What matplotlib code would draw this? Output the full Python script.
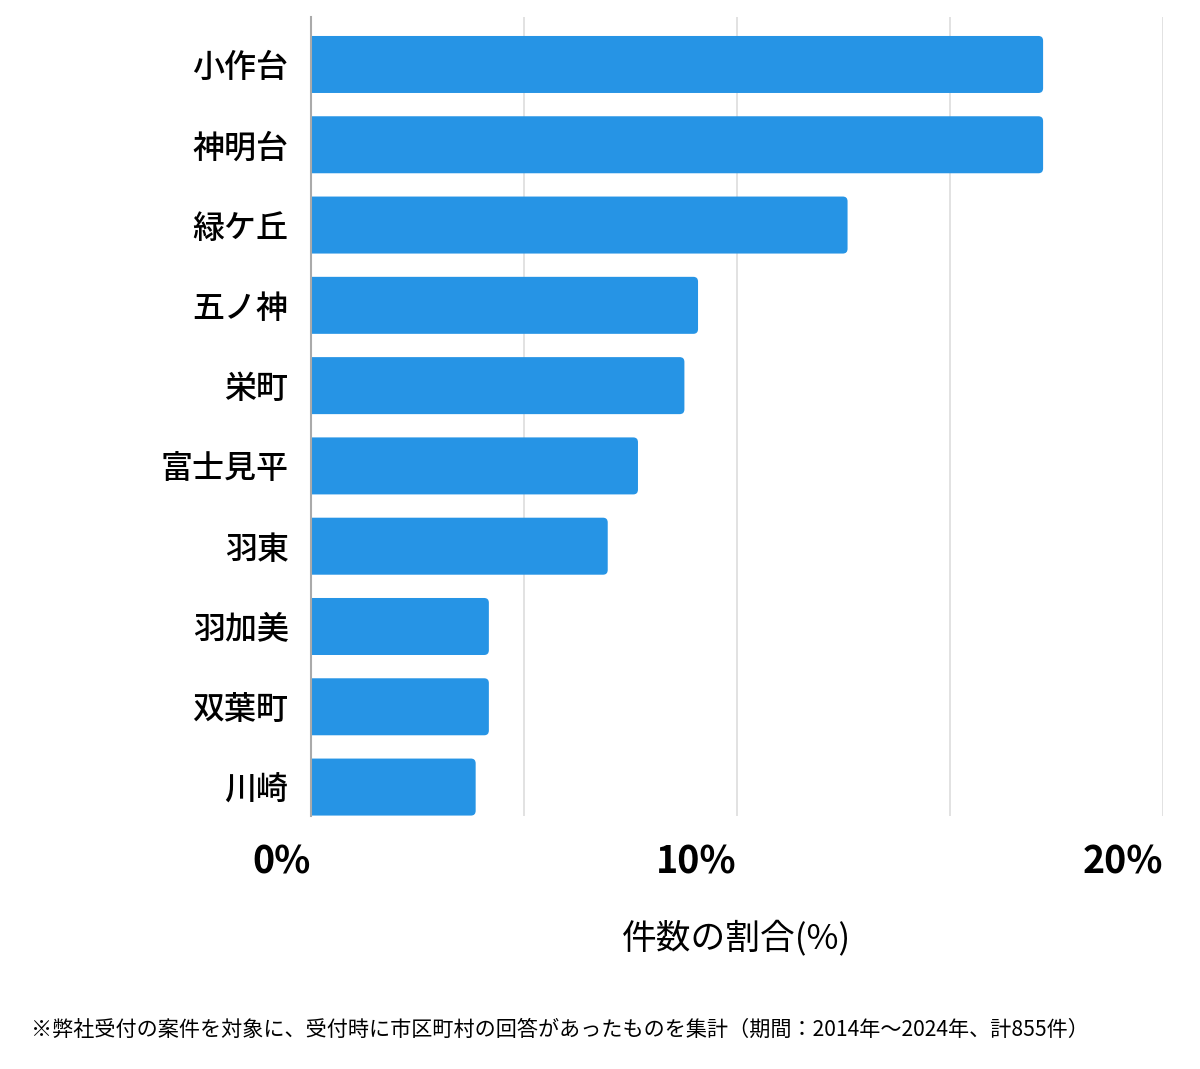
import matplotlib
matplotlib.use('Agg')
import matplotlib.pyplot as plt
from matplotlib.path import Path
from matplotlib.patches import PathPatch

plt.rcParams['font.family'] = ['Noto Sans CJK JP', 'DejaVu Sans']

# data (share of cases, %)
areas = ['小作台', '神明台', '緑ケ丘', '五ノ神', '栄町', '富士見平', '羽東', '羽加美', '双葉町', '川崎']
shares = [17.19, 17.19, 12.6, 9.09, 8.77, 7.68, 6.97, 4.18, 4.18, 3.87]
xticks = [0, 10, 20]
xticklabels = ['0%', '10%', '20%']
xlabel = '件数の割合(%)'
note = '※弊社受付の案件を対象に、受付時に市区町村の回答があったものを集計（期間：2014年〜2024年、計855件）'

fig = plt.figure(figsize=(12, 10.69), dpi=100)
ax = fig.add_axes([0.259, 0.2367, 0.71, 0.7473])

bar_h = 0.71
color = '#2694e5'
ypos = list(range(len(areas)))
bars = ax.barh(ypos, shares, height=bar_h, color=color, zorder=2)


def right_rounded(x0, y0, w, h, rx, ry):
    # rectangle with rounded corners on the right side only
    verts = [(x0, y0), (x0 + w - rx, y0), (x0 + w, y0), (x0 + w, y0 + ry),
             (x0 + w, y0 + h - ry), (x0 + w, y0 + h), (x0 + w - rx, y0 + h),
             (x0, y0 + h), (x0, y0)]
    codes = [Path.MOVETO, Path.LINETO, Path.CURVE3, Path.CURVE3,
             Path.LINETO, Path.CURVE3, Path.CURVE3, Path.LINETO, Path.CLOSEPOLY]
    return Path(verts, codes)


for b in bars:
    b.set_visible(False)
    p = right_rounded(b.get_x(), b.get_y(), b.get_width(), b.get_height(), 0.11, 0.06)
    ax.add_patch(PathPatch(p, facecolor=color, edgecolor='none', zorder=2))

ax.set_xlim(0, 20)
ax.set_ylim(9.36, -0.59)
ax.set_yticks(ypos)
ax.set_yticklabels(areas, fontsize=23, fontweight='medium')
ax.set_xticks(xticks)
ax.set_xticklabels(xticklabels, fontsize=27, fontweight='bold', ha='right')
ax.tick_params(axis='x', length=0, pad=19)
ax.tick_params(axis='y', length=0, pad=16)

ax.set_xticks([5, 15], minor=True)
ax.tick_params(axis='x', which='minor', length=0)
ax.grid(axis='x', which='both', color='#dddddd', linewidth=1.2, zorder=0)

for s in ['top', 'right', 'bottom']:
    ax.spines[s].set_visible(False)
ax.spines['left'].set_color('#aaaaaa')
ax.spines['left'].set_linewidth(1.5)

ax.set_xlabel(xlabel, fontsize=25, labelpad=28)
fig.text(0.026, 0.037, note, fontsize=15.2, va='center', ha='left')

fig.savefig('out.png', dpi=100)
